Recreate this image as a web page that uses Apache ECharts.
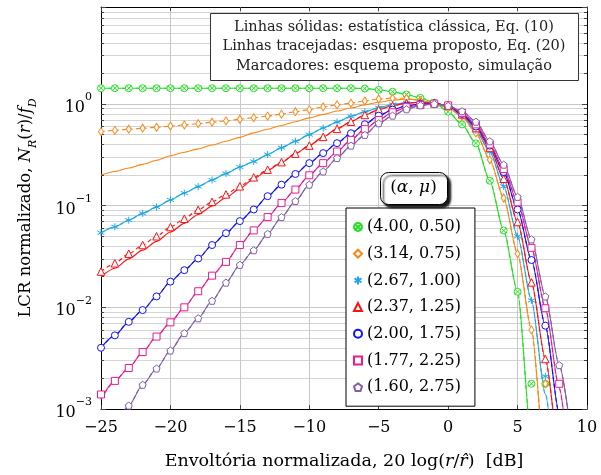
<!DOCTYPE html>
<html>
<head>
<meta charset="utf-8">
<script src="https://cdn.jsdelivr.net/npm/echarts@6/dist/echarts.min.js"></script>
<style>
  html, body { margin: 0; padding: 0; background: #fff; }
  #chart { width: 601px; height: 475px; }
</style>
</head>
<body>
<div id="chart"></div>
<script>
// eixo x: envoltória normalizada em dB (passo de 1 dB)
const dB = [-25, -24, -23, -22, -21, -20, -19, -18, -17, -16, -15, -14, -13, -12, -11, -10, -9, -8, -7, -6, -5, -4, -3, -2, -1, 0, 1, 2, 3, 4, 5, 6, 7, 8, 9]

const xTicks = [-25, -20, -15, -10, -5, 0, 5, 10]
const yTicks = [0.001, 0.01, 0.1, 1]

// (4.00, 0.50)
const greenSim = [1.43, 1.43, 1.43, 1.43, 1.43, 1.43, 1.43, 1.43, 1.43, 1.43, 1.43, 1.43, 1.43, 1.43, 1.43, 1.43, 1.43, 1.43, 1.43, 1.42, 1.38, 1.32, 1.24, 1.15, 1.03, 0.84, 0.63, 0.41, 0.176, 0.057, 0.0142, 0.00177, 0.00177, null, null]
const greenLine = [1.43, 1.43, 1.43, 1.43, 1.43, 1.43, 1.43, 1.43, 1.43, 1.43, 1.43, 1.43, 1.43, 1.43, 1.43, 1.43, 1.43, 1.43, 1.43, 1.42, 1.38, 1.32, 1.24, 1.15, 1.03, 0.84, 0.63, 0.41, 0.176, 0.057, 0.0142, 0.0005, 0.00001, 0.0000001, 0.0000001]

// (3.14, 0.75)
const orangeSim = [0.535, 0.55, 0.565, 0.578, 0.59, 0.607, 0.623, 0.641, 0.662, 0.682, 0.708, 0.734, 0.76, 0.795, 0.84, 0.88, 0.935, 0.98, 1.02, 1.07, 1.12, 1.14, 1.14, 1.09, 1.01, 0.92, 0.75, 0.52, 0.283, 0.119, 0.0337, 0.006, 0.00177, null, null]
const orangeEq20 = [0.535, 0.55, 0.565, 0.578, 0.59, 0.607, 0.623, 0.641, 0.662, 0.682, 0.708, 0.734, 0.76, 0.795, 0.84, 0.88, 0.935, 0.98, 1.02, 1.07, 1.12, 1.14, 1.14, 1.09, 1.01, 0.92, 0.75, 0.52, 0.283, 0.119, 0.0337, 0.006, 0.0003, 0.000001, 0.00000001]
const orangeEq10 = [0.2, 0.217, 0.235, 0.255, 0.28, 0.31, 0.335, 0.362, 0.395, 0.43, 0.47, 0.52, 0.565, 0.615, 0.67, 0.73, 0.79, 0.855, 0.915, 0.98, 1.04, 1.09, 1.12, 1.09, 1.01, 0.92, 0.75, 0.52, 0.283, 0.119, 0.0337, 0.006, 0.0003, 0.000001, 0.00000001]

// (2.67, 1.00)
const cyanSim = [0.054, 0.062, 0.072, 0.084, 0.097, 0.114, 0.133, 0.154, 0.179, 0.207, 0.24, 0.272, 0.318, 0.372, 0.43, 0.5, 0.58, 0.665, 0.755, 0.84, 0.92, 0.99, 1.03, 1.04, 1.01, 0.95, 0.77, 0.55, 0.34, 0.155, 0.05, 0.0117, 0.0021, null, null]
const cyanLine = [0.054, 0.062, 0.072, 0.084, 0.097, 0.114, 0.133, 0.154, 0.179, 0.207, 0.24, 0.272, 0.318, 0.372, 0.43, 0.5, 0.58, 0.665, 0.755, 0.84, 0.92, 0.99, 1.03, 1.04, 1.01, 0.95, 0.77, 0.55, 0.34, 0.155, 0.05, 0.0117, 0.0014, 0.00015, 0.000001]

// (2.37, 1.25)
const redSim = [0.0225, 0.0271, 0.0337, 0.041, 0.05, 0.0616, 0.0744, 0.091, 0.109, 0.129, 0.155, 0.19, 0.226, 0.268, 0.325, 0.39, 0.475, 0.57, 0.67, 0.78, 0.88, 0.96, 1.02, 1.04, 1.02, 0.96, 0.79, 0.58, 0.37, 0.184, 0.069, 0.0176, 0.0031, null, null]
const redEq20 = [0.0225, 0.0271, 0.0337, 0.041, 0.05, 0.0616, 0.0744, 0.091, 0.109, 0.129, 0.155, 0.19, 0.226, 0.268, 0.325, 0.39, 0.475, 0.57, 0.67, 0.78, 0.88, 0.96, 1.02, 1.04, 1.02, 0.96, 0.79, 0.58, 0.37, 0.184, 0.069, 0.0176, 0.0031, 0.0004, 0.000001]
const redEq10 = [0.02, 0.0242, 0.03, 0.0365, 0.0445, 0.055, 0.067, 0.082, 0.099, 0.12, 0.147, 0.184, 0.222, 0.266, 0.325, 0.39, 0.475, 0.57, 0.67, 0.78, 0.88, 0.96, 1.02, 1.04, 1.02, 0.96, 0.79, 0.58, 0.37, 0.184, 0.069, 0.0176, 0.0031, 0.0004, 0.000001]

// (2.00, 1.75)
const blueSim = [0.004, 0.0053, 0.0072, 0.0094, 0.0128, 0.0179, 0.0232, 0.0302, 0.041, 0.0536, 0.0705, 0.0917, 0.124, 0.161, 0.205, 0.262, 0.329, 0.412, 0.516, 0.632, 0.768, 0.88, 0.96, 1.0, 1.01, 0.97, 0.8, 0.6, 0.39, 0.214, 0.0917, 0.0292, 0.0066, null, null]
const blueLine = [0.004, 0.0053, 0.0072, 0.0094, 0.0128, 0.0179, 0.0232, 0.0302, 0.041, 0.0536, 0.0705, 0.0917, 0.124, 0.161, 0.205, 0.262, 0.329, 0.412, 0.516, 0.632, 0.768, 0.88, 0.96, 1.0, 1.01, 0.97, 0.8, 0.6, 0.39, 0.214, 0.0917, 0.0292, 0.0066, 0.0009, 0.00003]

// (1.77, 2.25)
const pinkSim = [0.00139, 0.00189, 0.00253, 0.00363, 0.00516, 0.00712, 0.01, 0.0144, 0.0205, 0.028, 0.041, 0.0571, 0.0772, 0.1065, 0.144, 0.199, 0.262, 0.341, 0.444, 0.565, 0.697, 0.83, 0.93, 0.98, 1.01, 0.97, 0.82, 0.63, 0.4, 0.229, 0.108, 0.0385, 0.0098, 0.00177, null]
const pinkLine = [0.00125, 0.00189, 0.00253, 0.00363, 0.00516, 0.00712, 0.01, 0.0144, 0.0205, 0.028, 0.041, 0.0571, 0.0772, 0.1065, 0.144, 0.199, 0.262, 0.341, 0.444, 0.565, 0.697, 0.83, 0.93, 0.98, 1.01, 0.97, 0.82, 0.63, 0.4, 0.229, 0.108, 0.0385, 0.0098, 0.0016, 0.0001]

// (1.60, 2.75)
const purpleSim = [null, null, 0.00108, 0.00173, 0.0025, 0.00376, 0.00557, 0.0078, 0.0116, 0.0175, 0.0262, 0.0364, 0.0528, 0.0772, 0.111, 0.161, 0.217, 0.294, 0.39, 0.497, 0.647, 0.768, 0.887, 0.97, 1.0, 0.96, 0.85, 0.67, 0.43, 0.253, 0.122, 0.0466, 0.0128, 0.0027, null]
const purpleLine = [0.00045, 0.0007, 0.00108, 0.00173, 0.0025, 0.00376, 0.00557, 0.0078, 0.0116, 0.0175, 0.0262, 0.0364, 0.0528, 0.0772, 0.111, 0.161, 0.217, 0.294, 0.39, 0.497, 0.647, 0.768, 0.887, 0.97, 1.0, 0.96, 0.85, 0.67, 0.43, 0.253, 0.122, 0.0466, 0.0128, 0.0027, 0.0004]

const SERIF = 'DejaVu Serif'
const pentagon = 'path://M0,-10L9.51,-3.09L5.88,8.09L-5.88,8.09L-9.51,-3.09Z'
const asterisk = 'path://M0,-10L0,10M-8.66,-5L8.66,5M-8.66,5L8.66,-5'
const otimes = 'path://M19,10A9,9 0 1,1 1,10A9,9 0 1,1 19,10ZM3.64,3.64L16.36,16.36M16.36,3.64L3.64,16.36'

const curves = [
  { name: '(4.00, 0.50)', color: '#22e022', sim: greenSim, eq10: greenLine, eq20: greenLine, symbol: otimes, size: 7 },
  { name: '(3.14, 0.75)', color: '#ff8410', sim: orangeSim, eq10: orangeEq10, eq20: orangeEq20, symbol: 'diamond', size: [5, 8] },
  { name: '(2.67, 1.00)', color: '#1ea9e6', sim: cyanSim, eq10: cyanLine, eq20: cyanLine, symbol: asterisk, size: 7 },
  { name: '(2.37, 1.25)', color: '#ff1010', sim: redSim, eq10: redEq10, eq20: redEq20, symbol: 'triangle', size: 7.5 },
  { name: '(2.00, 1.75)', color: '#1010ff', sim: blueSim, eq10: blueLine, eq20: blueLine, symbol: 'circle', size: 7 },
  { name: '(1.77, 2.25)', color: '#ec1a8c', sim: pinkSim, eq10: pinkLine, eq20: pinkLine, symbol: 'rect', size: 7 },
  { name: '(1.60, 2.75)', color: '#8060a8', sim: purpleSim, eq10: purpleLine, eq20: purpleLine, symbol: pentagon, size: 7 },
]

const pairs = arr => dB.map((x, i) => [x, arr[i]]).filter(p => p[1] != null)

const series = []
curves.forEach(c => {
  series.push({
    type: 'line', name: c.name + ' Eq10', data: pairs(c.eq10), showSymbol: false, silent: true,
    smooth: 0.25, smoothMonotone: 'x', lineStyle: { color: c.color, width: 1.1 }, z: 2,
  })
  series.push({
    type: 'line', name: c.name + ' Eq20', data: pairs(c.eq20), showSymbol: false, silent: true,
    smooth: 0.25, smoothMonotone: 'x', lineStyle: { color: c.color, width: 1.1, type: [4, 3] }, z: 2,
  })
  series.push({
    type: 'scatter', name: c.name, data: pairs(c.sim), symbol: c.symbol, symbolSize: c.size,
    itemStyle: { color: '#fff', borderColor: c.color, borderWidth: 1, opacity: 1 }, z: 3,
  })
})

const yLabel = v => {
  const e = Math.round(Math.log10(v))
  if (!yTicks.some(t => Math.abs(t - v) / t < 1e-6)) return ''
  return '{b|10}{s|' + (e < 0 ? '−' : '') + Math.abs(e) + '}'
}

const yBase = {
  type: 'log', min: yTicks[0], max: 9,
  axisLine: { show: true, onZero: false, lineStyle: { color: '#000', width: 1 } },
  axisTick: { show: true, inside: true, length: 5, lineStyle: { color: '#444' } },
  minorTick: { show: true, splitNumber: 9, length: 3, lineStyle: { color: '#444' } },
}

const chart = echarts.init(document.getElementById('chart'))
chart.setOption({
  animation: false,
  backgroundColor: '#fff',
  grid: { left: 101, right: 14, top: 7, bottom: 65 },
  xAxis: [
    {
      type: 'value', min: xTicks[0], max: xTicks[xTicks.length - 1], interval: 5,
      name: '{t|Envoltória normalizada, 20 log(}{i|r}{t|/}{i|r̂}{t|)  [dB]}',
      nameLocation: 'middle', nameGap: 43,
      nameTextStyle: {
        rich: {
          t: { fontFamily: SERIF, fontSize: 17.5, color: '#000' },
          i: { fontFamily: SERIF, fontStyle: 'italic', fontSize: 17.5, color: '#000' },
        },
      },
      axisLine: { onZero: false, lineStyle: { color: '#000', width: 1 } },
      axisTick: { inside: true, length: 4, lineStyle: { color: '#444' } },
      axisLabel: {
        margin: 11, fontFamily: SERIF, fontSize: 16, color: '#000',
        formatter: v => (v < 0 ? '−' + Math.abs(v) : String(v)),
      },
      splitLine: { show: true, lineStyle: { color: '#c8c8c8', width: 1 } },
    },
    {
      type: 'value', position: 'top', min: xTicks[0], max: xTicks[xTicks.length - 1], interval: 5,
      axisLine: { show: true, onZero: false, lineStyle: { color: '#000', width: 1 } },
      axisTick: { inside: true, length: 4, lineStyle: { color: '#444' } },
      axisLabel: { show: false }, splitLine: { show: false },
    },
  ],
  yAxis: [
    Object.assign({}, yBase, {
      name: '{t|LCR normalizado, }{i|N}{s|R}{t|(}{i|r}{t|)/}{i|f}{s|D}',
      nameLocation: 'middle', nameGap: 62,
      nameTextStyle: {
        rich: {
          t: { fontFamily: SERIF, fontSize: 16.5, color: '#000', lineHeight: 22, verticalAlign: 'top' },
          i: { fontFamily: SERIF, fontStyle: 'italic', fontSize: 16.5, color: '#000', lineHeight: 22, verticalAlign: 'top' },
          s: { fontFamily: SERIF, fontStyle: 'italic', fontSize: 11, color: '#000', lineHeight: 14, verticalAlign: 'bottom' },
        },
      },
      axisLabel: {
        margin: 9, formatter: yLabel,
        rich: {
          b: { fontFamily: SERIF, fontSize: 16, color: '#000', lineHeight: 24, verticalAlign: 'bottom' },
          s: { fontFamily: SERIF, fontSize: 11, color: '#000', lineHeight: 12, verticalAlign: 'top' },
        },
      },
      splitLine: { show: true, lineStyle: { color: '#c8c8c8', width: 1 } },
      minorSplitLine: { show: true, lineStyle: { color: '#d4d4d4', width: 1 } },
    }),
    Object.assign({}, yBase, {
      position: 'right',
      axisLabel: { show: false }, splitLine: { show: false },
    }),
  ],
  legend: {
    orient: 'vertical', left: 346, top: 208, padding: [10, 14, 10, 7],
    itemGap: 8.7, itemWidth: 8, itemHeight: 8, selectedMode: false,
    borderColor: '#000', borderWidth: 1, backgroundColor: '#fff',
    textStyle: { fontFamily: SERIF, fontSize: 16, lineHeight: 18, color: '#000' },
    data: curves.map(c => c.name),
  },
  graphic: [
    {
      type: 'rect', left: 210, top: 13, z: 10,
      shape: { width: 368, height: 67 },
      style: { fill: '#fff', stroke: '#333', lineWidth: 1 },
    },
    {
      type: 'text', x: 394, y: 46.5, z: 11,
      style: {
        text: 'Linhas sólidas: estatística clássica, Eq. (10)\nLinhas tracejadas: esquema proposto, Eq. (20)\nMarcadores: esquema proposto, simulação',
        align: 'center', verticalAlign: 'middle', lineHeight: 19.5,
        font: '14.5px "DejaVu Serif"', fill: '#222',
      },
    },
    {
      type: 'rect', left: 380, top: 172, z: 10,
      shape: { width: 67, height: 32, r: 8 },
      style: { fill: '#fff', stroke: '#000', lineWidth: 1, shadowBlur: 2, shadowOffsetX: 3, shadowOffsetY: 3, shadowColor: 'rgba(0,0,0,0.9)' },
    },
    {
      type: 'text', x: 413.5, y: 188, z: 11,
      style: {
        text: '{n|(}{i|α}{n|, }{i|μ}{n|)}',
        align: 'center', verticalAlign: 'middle',
        rich: {
          n: { fontFamily: SERIF, fontSize: 17, fill: '#000' },
          i: { fontFamily: SERIF, fontStyle: 'italic', fontSize: 17, fill: '#000' },
        },
      },
    },
  ],
  series,
})
</script>
</body>
</html>
